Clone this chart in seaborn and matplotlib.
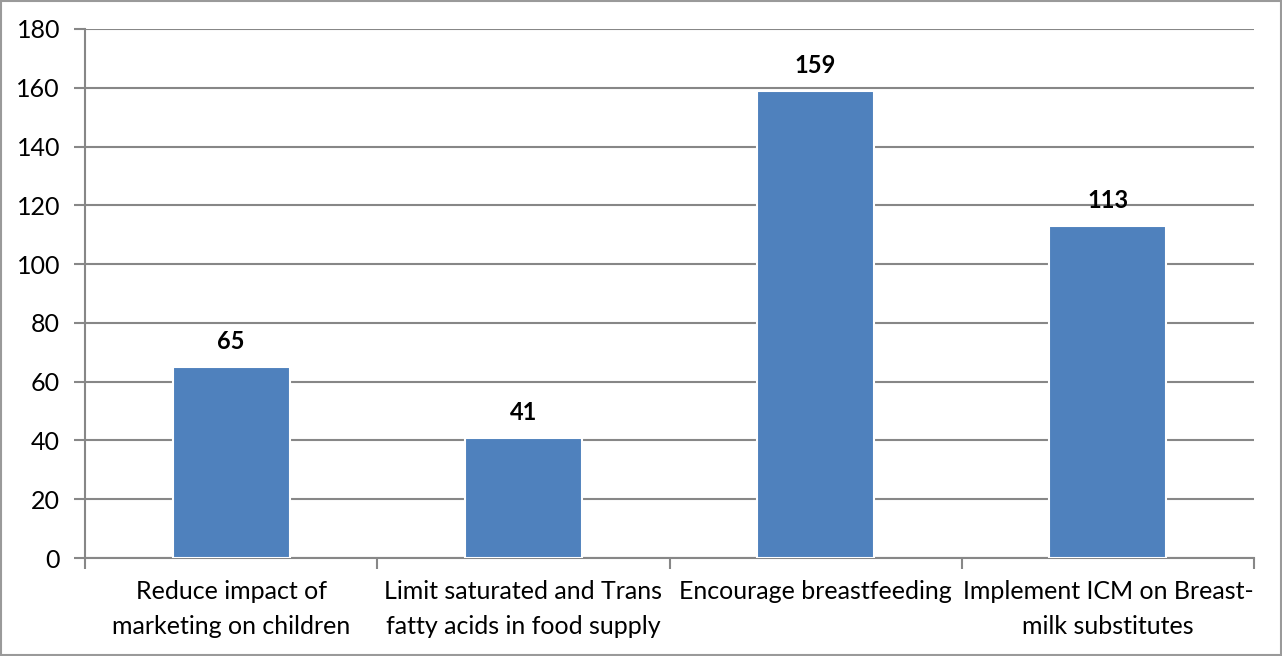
import matplotlib
matplotlib.use("Agg")
import matplotlib.pyplot as plt
import seaborn as sns
import pandas as pd
from matplotlib.patches import Rectangle

categories = ["Reduce impact of\nmarketing on children",
              "Limit saturated and Trans\nfatty acids in food supply",
              "Encourage breastfeeding",
              "Implement ICM on Breast-\nmilk substitutes"]
values = [65, 41, 159, 113]
yticks = [0, 20, 40, 60, 80, 100, 120, 140, 160, 180]

sns.set_theme(style="white")
plt.rcParams['font.family'] = ['Lato', 'DejaVu Sans']

df = pd.DataFrame({"cat": categories, "val": values})

fig = plt.figure(figsize=(12.82, 6.56), dpi=100)
ax = fig.add_axes([85/1282, 1 - 558/656, (1254-85)/1282, (558-29)/656])

sns.barplot(data=df, x="cat", y="val", color="#4F81BD", saturation=1,
            width=0.4, edgecolor="white", linewidth=1.5, ax=ax, zorder=3)

ax.set_ylim(0, 180)
ax.set_xlim(-0.5, 3.5)
ax.set_yticks(yticks)
ax.set_yticklabels([str(v) for v in yticks], fontsize=18, color="black")
ax.yaxis.grid(True, color="#878787", linewidth=1.5, zorder=0)
ax.set_axisbelow(True)
ax.set_xlabel("")
ax.set_ylabel("")

ax.set_xticks([-0.5, 0.5, 1.5, 2.5, 3.5], minor=False)
ax.set_xticklabels([])
ax.set_xticks([0, 1, 2, 3], minor=True)
ax.set_xticklabels(categories, minor=True, fontsize=18, linespacing=1.6, color="black")
ax.tick_params(axis="x", which="major", direction="out", length=8, width=1.5, color="#878787", bottom=True)
ax.tick_params(axis="x", which="minor", length=0, pad=16)
ax.tick_params(axis="y", direction="out", length=8, width=1.5, color="#878787", left=True, pad=10)

for s in ["top", "right"]:
    ax.spines[s].set_visible(False)
for s in ["left", "bottom"]:
    ax.spines[s].set_color("#878787")
    ax.spines[s].set_linewidth(1.5)

for i, v in enumerate(values):
    ax.annotate(str(v), (i, v), xytext=(0, 10), textcoords="offset points",
                ha="center", va="bottom", fontsize=17, fontweight="bold", color="black")

fig.patches.append(Rectangle((0.001, 0.001), 0.998, 0.998, transform=fig.transFigure,
                             fill=False, edgecolor="#9a9a9a", linewidth=1.5))

fig.savefig("out.png", dpi=100)
